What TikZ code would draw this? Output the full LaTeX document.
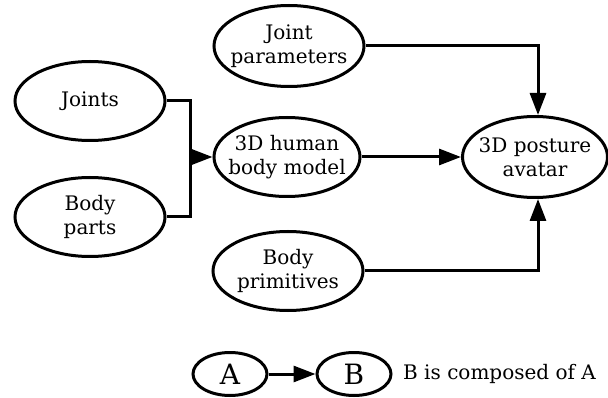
\documentclass[tikz,border=0pt]{standalone}
\usepackage{fontspec}
\setmainfont{DejaVu Serif}
\usetikzlibrary{shapes.geometric,arrows.meta}
\begin{document}
\begin{tikzpicture}[x=1pt,y=-1pt,
  concept/.style={ellipse,draw,line width=3pt,inner xsep=-30pt,inner ysep=-10pt,
    minimum width=150pt,minimum height=79pt,align=center,
    font=\fontsize{20}{23.5}\selectfont},
  small/.style={ellipse,draw,line width=3pt,inner sep=-10pt,
    minimum width=74pt,minimum height=43pt,font=\fontsize{28}{30}\selectfont},
  link/.style={line width=3pt,-{Triangle[length=22pt,width=16pt]}},
  plain/.style={line width=3pt}]
\useasboundingbox (0,0) rectangle (608,398);
\node[concept] (joints) at (90,101) {Joints};
\node[concept] (parts) at (90,217) {Body\\parts};
\node[concept,minimum height=81pt] (jparam) at (289,46) {Joint\\parameters};
\node[concept,minimum width=146pt] (model) at (287,157) {3D human\\body model};
\node[concept] (prim) at (288,271) {Body\\primitives};
\node[concept,minimum width=145pt,minimum height=81pt] (avatar) at (535,157) {3D posture\\avatar};
% joints and body parts merge into the body model
\coordinate (bus) at (190,157);
\draw[plain] (joints.east) -| (bus) |- (parts.east);
\draw[link] (bus) -- (model.west);
\draw[link] (model) -- (avatar);
\draw[link] (jparam.east) -| ([xshift=3pt]avatar.north);
\draw[link] (prim.east) -| ([xshift=3pt]avatar.south);
% legend
\node[small] (a) at (230,374) {A};
\node[small] (b) at (354,374) {B};
\draw[link] (a) -- (b);
\node[anchor=west,inner sep=0pt,font=\fontsize{20}{24}\selectfont] (note) at (403,374) {B is composed of A};
\end{tikzpicture}
\end{document}
